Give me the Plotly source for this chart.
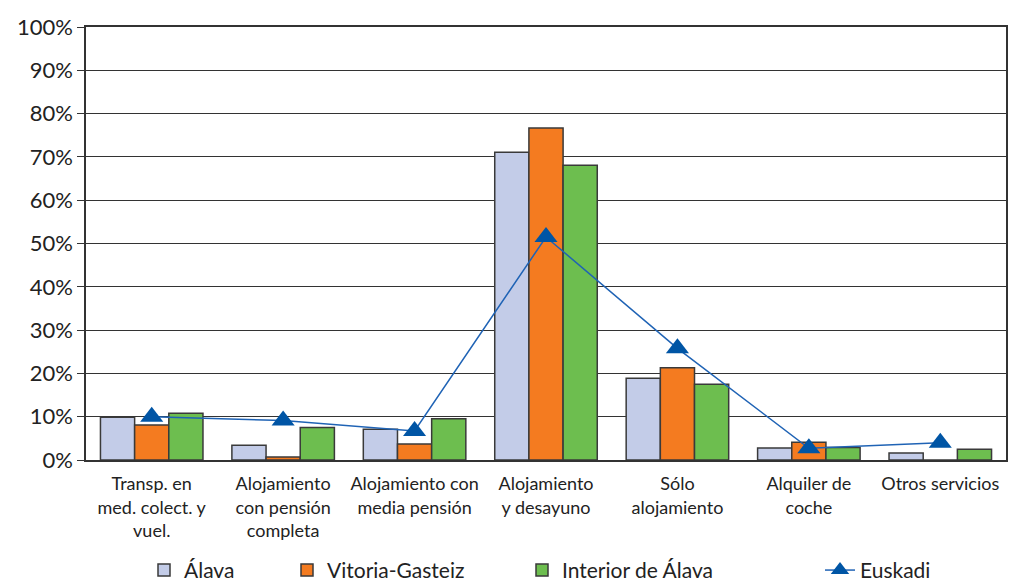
import plotly.graph_objects as go

categories = [
    "Transp. en<br>med. colect. y<br>vuel.",
    "Alojamiento<br>con pensión<br>completa",
    "Alojamiento con<br>media pensión",
    "Alojamiento<br>y desayuno",
    "Sólo<br>alojamiento",
    "Alquiler de<br>coche",
    "Otros servicios",
]
alava = [9.9, 3.4, 7.1, 71.1, 18.9, 2.8, 1.6]
vitoria = [8.1, 0.7, 3.7, 76.7, 21.3, 4.1, 0.0]
interior = [10.8, 7.5, 9.5, 68.1, 17.5, 2.9, 2.5]
euskadi = [10.0, 9.1, 6.7, 51.5, 25.8, 2.7, 4.0]
y_ticks = [0, 10, 20, 30, 40, 50, 60, 70, 80, 90, 100]
y_labels = [f"{v}%" for v in y_ticks]

FONT = "Lato, 'Open Sans', sans-serif"
outline = dict(color="#3a3a3a", width=1.5)

fig = go.Figure()
fig.add_trace(go.Bar(name="Álava", x=categories, y=alava, legend="legend",
                     marker=dict(color="#C3CCE8", line=outline)))
fig.add_trace(go.Bar(name="Vitoria-Gasteiz", x=categories, y=vitoria, legend="legend2",
                     marker=dict(color="#F47B20", line=outline)))
fig.add_trace(go.Bar(name="Interior de Álava", x=categories, y=interior, legend="legend3",
                     marker=dict(color="#6DBE4F", line=outline)))
fig.add_trace(go.Scatter(name="Euskadi", x=categories, y=euskadi, legend="legend4",
                         mode="lines+markers",
                         line=dict(color="#1F63B5", width=1.5),
                         marker=dict(symbol="triangle-up", size=20, color="#0055A5")))

leg_font = dict(size=21, family=FONT, color="#222222")
def leg(xpx):
    return dict(orientation="h", x=(xpx - 86) / 920, xanchor="left",
                y=-0.255, yanchor="middle", font=leg_font,
                bgcolor="rgba(0,0,0,0)", itemwidth=30)

fig.update_layout(
    width=1010, height=583,
    margin=dict(l=86, r=4, t=27, b=123, autoexpand=False),
    paper_bgcolor="white", plot_bgcolor="white",
    barmode="group", bargap=0.22, bargroupgap=0,
    font=dict(family=FONT, color="#222222"),
    showlegend=True,
    legend=leg(144), legend2=leg(287), legend3=leg(522), legend4=leg(820),
)
fig.update_yaxes(range=[0, 100], tickvals=y_ticks, ticktext=y_labels,
                 showgrid=True, gridcolor="#333333", gridwidth=1,
                 showline=True, linecolor="#333333", linewidth=1.5,
                 ticks="outside", ticklen=7, tickcolor="#333333",
                 mirror=True, zeroline=False, automargin=False,
                 tickfont=dict(size=22, family=FONT, color="#222222"))
fig.update_xaxes(showline=True, linecolor="#333333", linewidth=1.5,
                 mirror=True, ticks="", automargin=False, ticklabelstandoff=7,
                 tickfont=dict(size=18, family=FONT, color="#222222"))

fig.write_html("out.html", config={"displayModeBar": False},
               post_script="document.body.style.margin='0';document.body.style.overflow='hidden';")
